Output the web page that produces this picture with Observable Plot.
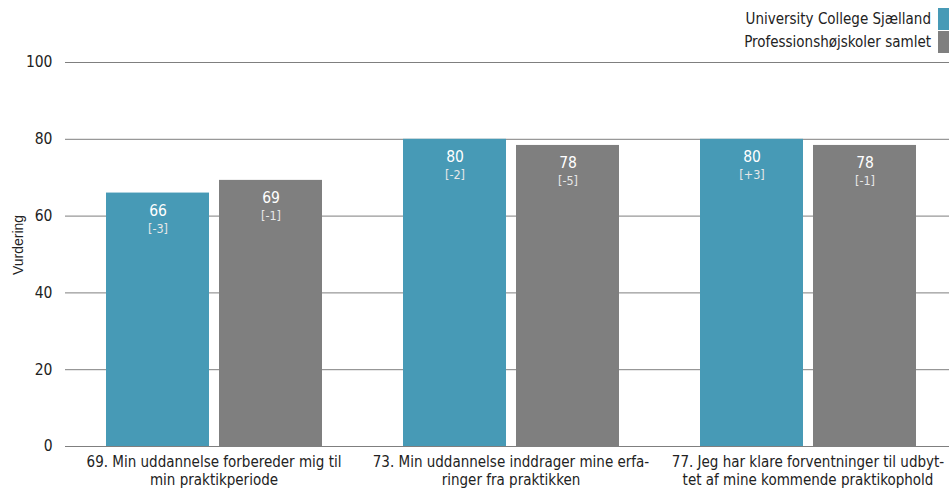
<!DOCTYPE html>
<html>
<head>
<meta charset="utf-8">
<script src="https://cdn.jsdelivr.net/npm/d3@7"></script>
<script src="https://cdn.jsdelivr.net/npm/@observablehq/plot@0.6"></script>
<style>
  body { margin: 0; background: #fff; font-family: "DejaVu Sans Condensed", "DejaVu Sans", sans-serif; }
  #wrap { position: relative; width: 949px; height: 488px; }
  #legend { position: absolute; top: 7px; right: 0; font-size: 15px; color: #222; }
  #legend .row { display: flex; align-items: center; justify-content: flex-end; height: 23px; margin-bottom: 0px; }
  #legend .sw { width: 11px; height: 22px; margin-left: 7px; }
  #ylab { position: absolute; left: 18px; top: 245px; transform: translate(-50%, -50%) rotate(-90deg); font-family: "Liberation Sans", Arial, sans-serif; font-size: 14px; color: #222; white-space: nowrap; }
</style>
</head>
<body>
<div id="wrap">
  <div id="chart"></div>
  <div id="legend"></div>
  <div id="ylab">Vurdering</div>
</div>
<script>
const questions = ["69", "73", "77"];
const questionLabels = [
  "69. Min uddannelse forbereder mig til\nmin praktikperiode",
  "73. Min uddannelse inddrager mine erfa-\nringer fra praktikken",
  "77. Jeg har klare forventninger til udbyt-\ntet af mine kommende praktikophold"
];
const series = ["University College Sjælland", "Professionshøjskoler samlet"];
const colors = ["#479ab6", "#7f7f7f"];
const ucsjValues = [66, 80, 80];
const profValues = [69.3, 78.4, 78.4];
const ucsjDeltas = ["[-3]", "[-2]", "[+3]"];
const profDeltas = ["[-1]", "[-5]", "[-1]"];
const yTicks = [0, 20, 40, 60, 80, 100];

const rows = [];
questions.forEach((q, i) => {
  rows.push({q, s: series[0], v: ucsjValues[i], d: ucsjDeltas[i]});
  rows.push({q, s: series[1], v: profValues[i], d: profDeltas[i]});
});
const labelMap = Object.fromEntries(questions.map((q, i) => [q, questionLabels[i]]));

const font = '"DejaVu Sans Condensed", "DejaVu Sans", sans-serif';
const chart = Plot.plot({
  width: 949,
  height: 488,
  marginLeft: 65,
  marginRight: -7,
  marginTop: 62,
  marginBottom: 42,
  style: {fontFamily: font, fontSize: "15px", color: "#222", background: "transparent", overflow: "visible"},
  fx: {domain: questions, padding: 0, label: null},
  x: {domain: series, paddingInner: 0.0885, paddingOuter: 0.358, axis: null},
  y: {domain: [0, 100], label: null},
  color: {domain: series, range: colors},
  marks: [
    Plot.gridY(yTicks, {stroke: "#7f7f7f", strokeOpacity: 1, strokeWidth: 1}),
    Plot.axisY(yTicks, {tickSize: 0, tickPadding: 13, fontSize: 15.5, label: null}),
    Plot.axisFx({anchor: "bottom", tickSize: 0, tickPadding: 8, fontSize: 15, lineHeight: 1.2, label: null, tickFormat: d => labelMap[d]}),
    Plot.barY(rows, {fx: "q", x: "s", y: "v", fill: "s"}),
    Plot.text(rows, {fx: "q", x: "s", y: "v", text: d => String(Math.round(d.v)), dy: 18, fill: "white", fontSize: 15.5}),
    Plot.text(rows, {fx: "q", x: "s", y: "v", text: "d", dy: 36, fill: "#e8e8e8", fontSize: 12.5})
  ]
});
document.getElementById("chart").appendChild(chart);

const legend = document.getElementById("legend");
series.forEach((s, i) => {
  const row = document.createElement("div");
  row.className = "row";
  const t = document.createElement("span");
  t.textContent = s;
  const sw = document.createElement("span");
  sw.className = "sw";
  sw.style.background = colors[i];
  row.appendChild(t);
  row.appendChild(sw);
  legend.appendChild(row);
});
</script>
</body>
</html>
